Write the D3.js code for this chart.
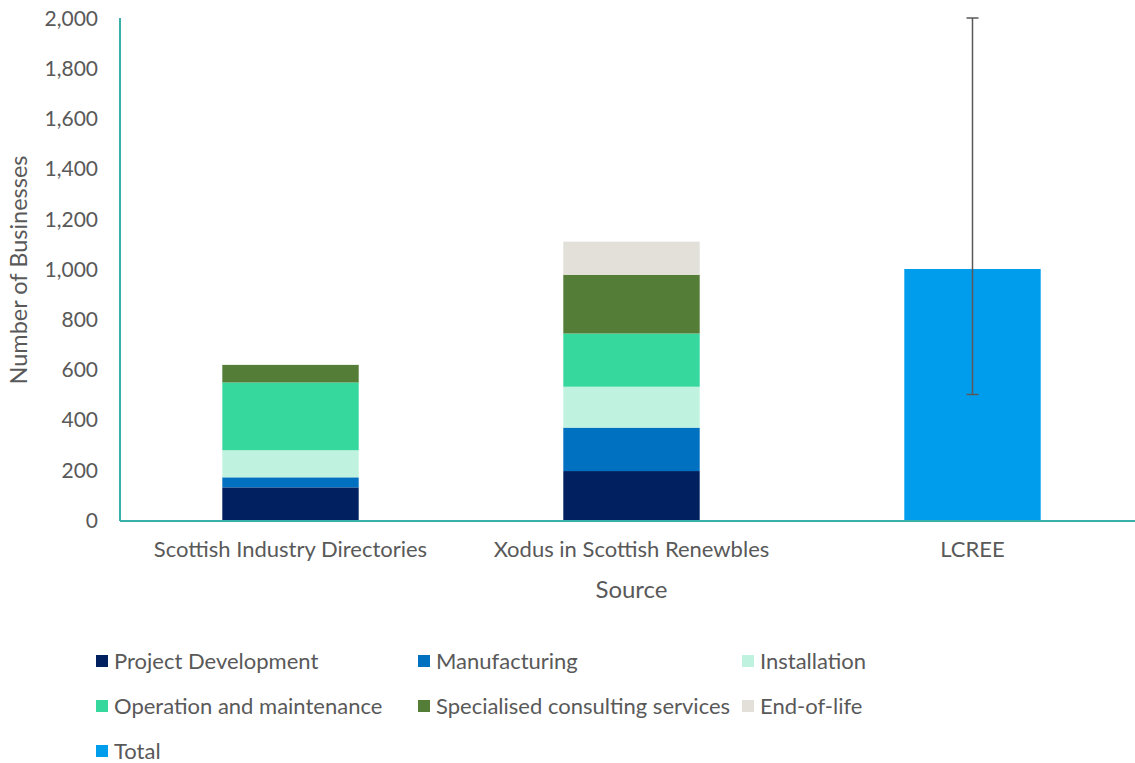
<!DOCTYPE html>
<html>
<head>
<meta charset="utf-8">
<script src="https://cdn.jsdelivr.net/npm/d3@7"></script>
<style>
  body { margin: 0; background: #fff; }
  svg text { font-family: Lato, "Open Sans", sans-serif; fill: #595959; }
</style>
</head>
<body>
<svg id="chart" width="1135" height="763"></svg>
<script>
// Sources compared on the x axis
const sources = ["Scottish Industry Directories", "Xodus in Scottish Renewbles", "LCREE"];

// Supply-chain segments stacked within each source
const segments = ["Project Development", "Manufacturing", "Installation",
  "Operation and maintenance", "Specialised consulting services", "End-of-life"];
const segmentColors = ["#002060", "#0070C0", "#BFF2DF", "#37D89D", "#547D37", "#E3E0D9"];

// Number of businesses per segment (one array per source)
const directoriesValues = [130, 40, 108, 270, 70, 0];
const xodusValues       = [195, 173, 163, 212, 234, 132];

// LCREE reports a single total with an uncertainty range
const lcreeTotal = 1000;
const lcreeLow = 500;
const lcreeHigh = 2000;
const totalLabel = "Total";
const totalColor = "#009DED";

const yTicks = [0, 200, 400, 600, 800, 1000, 1200, 1400, 1600, 1800, 2000];

const svg = d3.select("#chart");
const margin = { left: 120, top: 18, bottom: 520 };
const plotRight = 1143;

const x = d3.scaleBand().domain(sources).range([margin.left, plotRight]).padding(0);
const barW = x.bandwidth() * 0.4;
const y = d3.scaleLinear().domain([0, 2000]).range([margin.bottom, margin.top]);

// Y tick labels
const yAxis = d3.axisLeft(y).tickValues(yTicks).tickFormat(d3.format(",")).tickSize(0).tickPadding(22);
const yg = svg.append("g").attr("transform", `translate(${margin.left},0)`).call(yAxis);
yg.select(".domain").remove();
yg.selectAll("text").style("font-size", "21px").attr("dy", "0.35em");

// X category labels
const xAxis = d3.axisBottom(x).tickSize(0).tickPadding(21);
const xg = svg.append("g").attr("transform", `translate(0,${margin.bottom})`).call(xAxis);
xg.select(".domain").remove();
xg.selectAll("text").style("font-size", "22px");

// Stacked bars
const stackRows = [
  Object.assign({ source: sources[0] }, Object.fromEntries(segments.map((s, i) => [s, directoriesValues[i]]))),
  Object.assign({ source: sources[1] }, Object.fromEntries(segments.map((s, i) => [s, xodusValues[i]])))
];
const stacked = d3.stack().keys(segments)(stackRows);
const color = d3.scaleOrdinal().domain(segments).range(segmentColors);

svg.append("g").selectAll("g").data(stacked).join("g")
  .attr("fill", d => color(d.key))
  .selectAll("rect").data(d => d.filter(p => p[1] > p[0])).join("rect")
  .attr("x", d => x(d.data.source) + (x.bandwidth() - barW) / 2)
  .attr("width", barW)
  .attr("y", d => y(d[1]))
  .attr("height", d => y(d[0]) - y(d[1]));

// LCREE total bar
const cx = x(sources[2]) + x.bandwidth() / 2;
svg.append("rect")
  .attr("x", cx - barW / 2).attr("width", barW)
  .attr("y", y(lcreeTotal)).attr("height", y(0) - y(lcreeTotal))
  .attr("fill", totalColor);

// Error bar for the LCREE range
const eb = svg.append("g").attr("stroke", "#595959").attr("stroke-width", 1.5);
eb.append("line").attr("x1", cx).attr("x2", cx).attr("y1", y(lcreeHigh)).attr("y2", y(lcreeLow));
eb.append("line").attr("x1", cx - 6).attr("x2", cx + 6).attr("y1", y(lcreeHigh)).attr("y2", y(lcreeHigh));
eb.append("line").attr("x1", cx - 6).attr("x2", cx + 6).attr("y1", y(lcreeLow)).attr("y2", y(lcreeLow));

// Axis lines
svg.append("line").attr("x1", margin.left).attr("x2", margin.left)
  .attr("y1", y(2000)).attr("y2", y(0) + 1)
  .attr("stroke", "#3AB0AA").attr("stroke-width", 2);
svg.append("line").attr("x1", margin.left).attr("x2", 1135)
  .attr("y1", y(0) + 1).attr("y2", y(0) + 1)
  .attr("stroke", "#3AB0AA").attr("stroke-width", 2);

// Axis titles
svg.append("text").attr("x", (margin.left + plotRight) / 2).attr("y", 598)
  .attr("text-anchor", "middle").style("font-size", "24px").text("Source");
svg.append("text").attr("transform", `translate(27,${(margin.top + margin.bottom) / 2 + 1}) rotate(-90)`)
  .attr("text-anchor", "middle").style("font-size", "23.5px").text("Number of Businesses");

// Legend
const legendItems = segments.map((s, i) => ({ label: s, color: segmentColors[i] }))
  .concat([{ label: totalLabel, color: totalColor }]);
const colX = [96, 418, 742];
const rowY = [661, 706, 751];
const lg = svg.append("g").selectAll("g").data(legendItems).join("g")
  .attr("transform", (d, i) => `translate(${colX[i % 3]},${rowY[Math.floor(i / 3)]})`);
lg.append("rect").attr("x", 0).attr("y", -6).attr("width", 12).attr("height", 12).attr("fill", d => d.color);
lg.append("text").attr("x", 18).attr("y", 0).attr("dy", "0.35em").style("font-size", "22px").text(d => d.label);
</script>
</body>
</html>
